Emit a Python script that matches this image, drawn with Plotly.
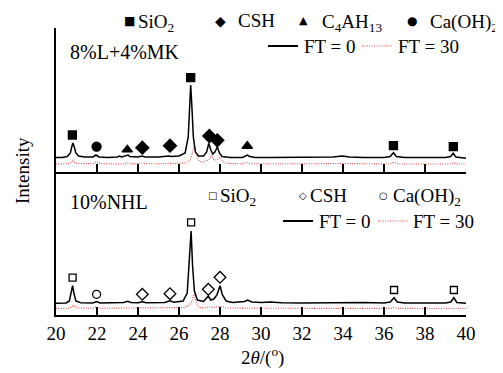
import plotly.graph_objects as go

# ---------------- data (arbitrary intensity units) ----------------
# 8%L+4%MK, FT = 0
top_ft0_x = [20.0, 20.3, 20.55, 20.7, 20.78, 20.82, 20.88, 20.97, 21.1, 21.4, 21.8, 21.95, 22.1, 22.5,
             23.0, 23.1, 23.2, 23.45, 23.52, 23.6, 24.0, 24.2, 24.35, 25.0, 25.5, 25.65, 26.0, 26.3,
             26.45, 26.52, 26.57, 26.63, 26.7, 26.8, 26.95, 27.2, 27.35, 27.45, 27.55, 27.65, 27.75,
             27.87, 27.97, 28.1, 28.5, 29.1, 29.25, 29.33, 29.45, 29.7, 30.5, 31.5, 32.0, 32.5, 33.5,
             33.98, 34.3, 35.0, 36.0, 36.3, 36.46, 36.6, 37.0, 38.0, 39.0, 39.25, 39.38, 39.5, 39.8, 40.0]
top_ft0_y = [14.5, 14.5, 15.5, 19, 26, 29, 26, 19, 16, 15, 15, 17, 15, 14.5,
             15, 16, 15, 16, 17, 15.5, 15, 16, 15, 15, 16, 15.5, 16, 19,
             35, 65, 87, 65, 35, 20, 16, 16, 20, 28.7, 22, 18, 20,
             25, 19, 15.5, 14.5, 14.5, 16, 17, 15.5, 14.5, 14.5, 14.5, 15, 14.5, 15,
             16, 15, 14.5, 14.5, 15.5, 19.3, 15.5, 14.5, 14.5, 14.5, 15.5, 18.7, 15, 14, 13.7]

# 8%L+4%MK, FT = 30
top_ft30_x = [20.0, 20.6, 20.82, 21.0, 21.8, 21.97, 22.15, 23.3, 23.5, 23.7, 24.2, 24.4, 25.3, 25.5,
              25.7, 26.3, 26.55, 26.68, 26.75, 26.82, 26.95, 27.1, 27.45, 27.6, 27.7, 27.85, 28.0,
              28.15, 28.4, 29.1, 29.3, 29.5, 30.5, 32.0, 34.0, 36.3, 36.5, 36.7, 39.2, 39.4, 39.6, 40.0]
top_ft30_y = [8, 8.3, 11, 8.5, 8.3, 10.5, 8.3, 8, 9.5, 8, 9, 8.2, 8.3, 9,
              8.3, 9, 12, 20, 26, 20, 12, 9.5, 12, 17, 12, 12, 15,
              10, 8.5, 8.2, 9.5, 8.2, 8, 8.2, 8.5, 8, 10, 8, 8, 9.3, 8, 8]

# 10%NHL, FT = 0
bot_ft0_x = [20.0, 20.5, 20.65, 20.75, 20.81, 20.87, 20.97, 21.2, 21.8, 21.98, 22.15, 23.3, 23.5, 23.65,
             24.0, 24.21, 24.4, 25.3, 25.56, 25.75, 26.2, 26.4, 26.5, 26.59, 26.66, 26.75, 26.9, 27.2,
             27.43, 27.55, 27.7, 27.85, 28.0, 28.12, 28.3, 28.6, 29.2, 29.35, 29.55, 30.0, 30.44, 31.0,
             32.0, 33.0, 34.0, 35.0, 36.0, 36.3, 36.49, 36.65, 37.0, 38.0, 39.0, 39.25, 39.41, 39.55, 40.0]
bot_ft0_y = [11.7, 12, 14, 22, 29.3, 22, 14, 12.3, 12, 13.5, 12, 12.5, 13.7, 12.5,
             12.3, 13.2, 12.3, 12.5, 14.3, 12.8, 14, 22, 50, 84, 50, 24, 15, 13.5,
             19, 15, 16, 20, 29.3, 20, 14, 12.5, 13.5, 15, 13, 12.5, 13, 12.3,
             12, 12.3, 12, 12.5, 12, 13, 17.3, 13, 12, 12, 12, 13, 17.3, 12.5, 11.7]

# 10%NHL, FT = 30
bot_ft30_x = [20.0, 20.65, 20.85, 21.05, 21.8, 21.95, 22.1, 26.3, 26.6, 26.73, 26.85, 27.0, 27.3, 27.5,
              27.7, 28.0, 28.3, 30.0, 36.3, 36.5, 36.7, 40.0]
bot_ft30_y = [6.5, 6.8, 9.5, 7, 6.7, 8, 6.7, 7.5, 12, 21, 12, 7.5, 7, 8.3,
              7.3, 9, 7, 6.7, 6.6, 7.5, 6.6, 6.5]

# phase markers, 8%L+4%MK (filled)
top_sio2_x, top_sio2_y = [20.8, 26.57, 36.46, 39.38], [37, 94.3, 26.3, 25.3]
top_csh_x, top_csh_y = [24.21, 25.56, 27.48, 27.87], [24.3, 26.3, 36, 31.7]
top_c4ah13_x, top_c4ah13_y = [23.48, 29.33], [22.3, 26]
top_caoh2_x, top_caoh2_y = [21.98], [25.3]

# phase markers, 10%NHL (open)
bot_sio2_x, bot_sio2_y = [20.81, 26.59, 36.49, 39.41], [37.3, 92.7, 25, 25]
bot_csh_x, bot_csh_y = [24.21, 25.56, 27.43, 28.0], [20.7, 21.3, 25.7, 37.7]
bot_caoh2_x, bot_caoh2_y = [21.98], [20.7]

x_ticks = [20, 22, 24, 26, 28, 30, 32, 34, 36, 38, 40]
x_tick_text = [str(v) for v in x_ticks]

# ---------------- figure ----------------
FONT = "Liberation Serif"
OFF = 8                      # default page margin of the html body
W, H = 503 - OFF, 373 - OFF
L, T = 56 - OFF, 28 - OFF
PW, PH = 410, 287
R, B = W - L - PW, H - T - PH
split = 143 / PH


def px(xp):
    return (xp - 56) / PW


def py(yp):
    return (315 - yp) / PH


fig = go.Figure()

RED = "rgb(240,70,70)"
DOT = "1px,1.4px"
line0 = dict(color="black", width=1.5)
line30 = dict(color=RED, width=1.1, dash=DOT)

fig.add_trace(go.Scatter(x=top_ft30_x, y=top_ft30_y, mode="lines", line=line30, xaxis="x2", yaxis="y2", showlegend=False))
fig.add_trace(go.Scatter(x=top_ft0_x, y=top_ft0_y, mode="lines", line=line0, xaxis="x2", yaxis="y2", showlegend=False))
fig.add_trace(go.Scatter(x=bot_ft30_x, y=bot_ft30_y, mode="lines", line=line30, showlegend=False))
fig.add_trace(go.Scatter(x=bot_ft0_x, y=bot_ft0_y, mode="lines", line=line0, showlegend=False))


def mk(x, y, symbol, size, axes2):
    kw = dict(xaxis="x2", yaxis="y2") if axes2 else {}
    fig.add_trace(go.Scatter(x=x, y=y, mode="markers", showlegend=False, cliponaxis=False,
                             marker=dict(symbol=symbol, size=size, color="black",
                                         line=dict(color="black", width=1.3)), **kw))


mk(top_sio2_x, top_sio2_y, "square", 8, True)
mk(top_csh_x, top_csh_y, "diamond", 10, True)
mk(top_c4ah13_x, top_c4ah13_y, "triangle-up", 9, True)
mk(top_caoh2_x, top_caoh2_y, "circle", 9, True)
mk(bot_sio2_x, bot_sio2_y, "square-open", 7, False)
mk(bot_csh_x, bot_csh_y, "diamond-open", 9, False)
mk(bot_caoh2_x, bot_caoh2_y, "circle-open", 8, False)

axis_common = dict(showgrid=False, zeroline=False, showline=True, linecolor="black", linewidth=2,
                   ticks="inside", ticklen=8, tickwidth=2, tickcolor="black")

fig.update_layout(
    width=W, height=H, margin=dict(l=L, r=R, t=T, b=B),
    paper_bgcolor="white", plot_bgcolor="white",
    font=dict(family=FONT, size=19, color="black"),
    showlegend=False,
    xaxis=dict(range=[20, 40], anchor="y", tickvals=x_ticks, ticktext=x_tick_text,
               tickfont=dict(family=FONT, size=19), **axis_common),
    xaxis2=dict(range=[20, 40], anchor="y2", matches="x", tickvals=x_ticks, showticklabels=False,
                **axis_common),
    yaxis=dict(range=[0, 143], domain=[0, split], showgrid=False, zeroline=False, showline=True,
               linecolor="black", linewidth=2, showticklabels=False, ticks=""),
    yaxis2=dict(range=[0, 144], domain=[split, 1], showgrid=False, zeroline=False, showline=True,
                linecolor="black", linewidth=2, showticklabels=False, ticks="inside",
                tickvals=[144], ticklen=7, tickwidth=2, tickcolor="black"),
)

ann = []


def text(xp, yp, s, anchor="left", size=19, angle=0, font=FONT):
    ann.append(dict(x=px(xp), y=py(yp), xref="paper", yref="paper", text=s, showarrow=False,
                    xanchor=anchor, yanchor="middle", textangle=angle,
                    font=dict(family=font, size=size, color="black")))


text(22, 171, "Intensity", anchor="center", angle=-90)
text(262, 356, "2<i>θ</i>/(<sup>o</sup>)", anchor="center")
text(68, 52, "8%L+4%MK", size=20)
text(68, 202, "10%NHL", size=20)

SYM = "DejaVu Sans"
# top legend row 1
text(129, 21, "■", anchor="center", size=12, font=SYM)
text(136, 23, "SiO<sub>2</sub>")
text(220, 21, "◆", anchor="center", size=14, font=SYM)
text(236, 21, "CSH")
text(303, 21, "▲", anchor="center", size=11, font=SYM)
text(320, 23, "C<sub>4</sub>AH<sub>13</sub>")
text(412, 21, "●", anchor="center", size=12, font=SYM)
text(428, 23, "Ca(OH)<sub>2</sub>")
# top legend row 2
text(302, 46, "FT = 0")
text(396, 46, "FT = 30")
# bottom legend row 1
text(212, 195, "□", anchor="center", size=10, font=SYM)
text(218, 197, "SiO<sub>2</sub>")
text(303, 195, "◇", anchor="center", size=10, font=SYM)
text(308, 195, "CSH")
text(383, 195, "○", anchor="center", size=10, font=SYM)
text(391, 197, "Ca(OH)<sub>2</sub>")
# bottom legend row 2
text(317, 221, "FT = 0")
text(411, 221, "FT = 30")

fig.update_layout(annotations=ann)

shapes = []
for (x0, x1, yy, st) in [(268, 298, 46, "k"), (362, 392, 46, "r"), (283, 313, 221, "k"), (378, 408, 221, "r")]:
    ln = dict(color="black", width=2) if st == "k" else dict(color=RED, width=1.1, dash=DOT)
    shapes.append(dict(type="line", xref="paper", yref="paper", x0=px(x0), x1=px(x1), y0=py(yy), y1=py(yy), line=ln))
fig.update_layout(shapes=shapes)

fig.write_html("out.html")
